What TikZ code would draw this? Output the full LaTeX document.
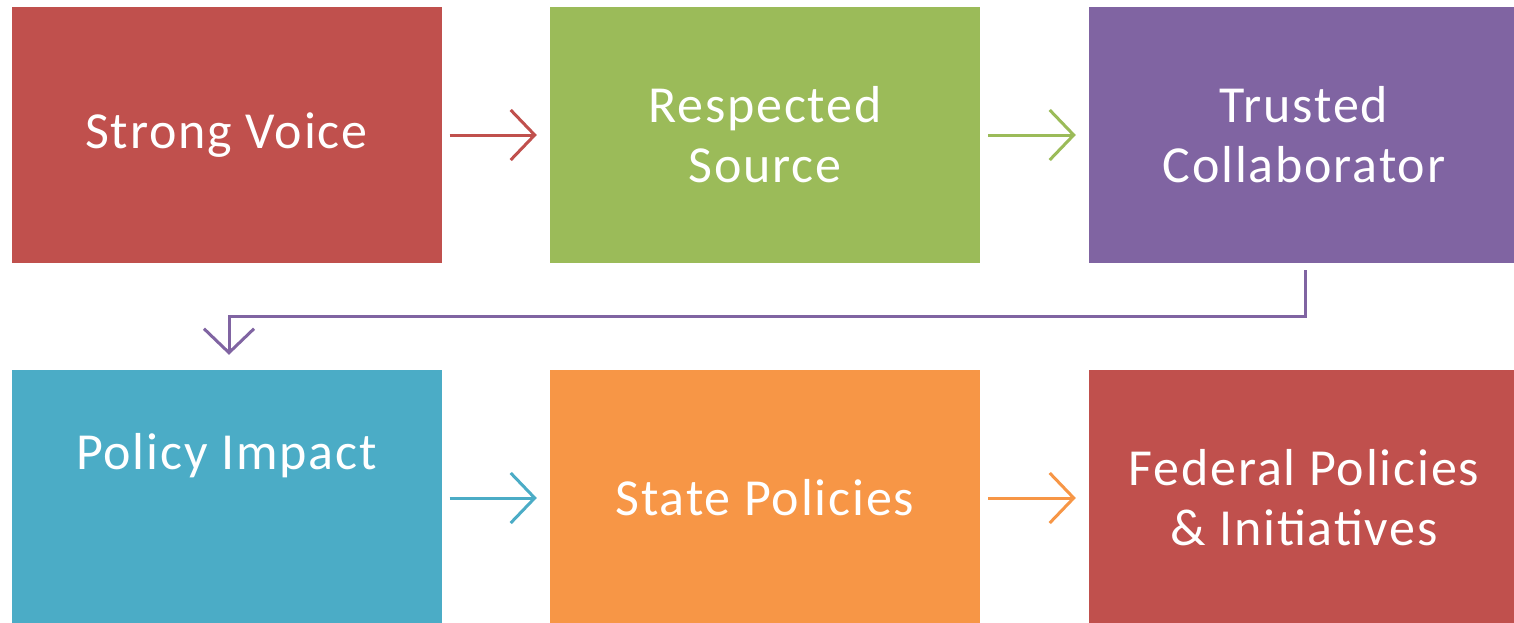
\documentclass[tikz,border=0pt]{standalone}
\usepackage{fontspec}
\setmainfont{Carlito}[LetterSpace=3.5]
\usetikzlibrary{arrows.meta}
\definecolor{cred}{HTML}{C0504D}
\definecolor{cgreen}{HTML}{9BBB59}
\definecolor{cpurple}{HTML}{8064A2}
\definecolor{cblue}{HTML}{4BACC6}
\definecolor{corange}{HTML}{F79646}
\tikzset{
  box/.style={rectangle, draw=none, minimum width=430pt, minimum height=256pt, inner sep=0pt,
    text=white, align=center, font=\fontsize{52}{60}\selectfont},
  txt/.style={text=white, align=center, inner sep=0pt, font=\fontsize{52}{60}\selectfont},
  arr/.style={line width=3pt, -{Straight Barb[length=24pt,width=50pt,line width=3pt]}},
}
\begin{document}
\begin{tikzpicture}[x=1pt,y=-1pt]
\useasboundingbox (0,0) rectangle (1514,623);
\clip (0,0) rectangle (1514,623);
\fill[white] (0,0) rectangle (1514,623);
\node[box, fill=cred] (b1) at (226.5,135) {Strong Voice};
\node[box, fill=cgreen] (b2) at (765,135) {Respected\\Source};
\node[box, fill=cpurple] (b3) at (1304,135) {Trusted\\Collaborator};
\node[box, fill=cblue] (b4) at (226.5,498) {};
\node[txt] (t4) at ([yshift=42pt]b4.center) {Policy Impact};
\node[box, fill=corange] (b5) at (765,498) {State Policies};
\node[box, fill=cred] (b6) at (1304,498) {Federal Policies\\\& Initiatives};
\draw[arr, cred] ([xshift=8pt]b1.east) -- ([xshift=-13pt]b2.west);
\draw[arr, cgreen] ([xshift=8pt]b2.east) -- ([xshift=-13pt]b3.west);
\draw[arr, cblue] ([xshift=8pt]b4.east) -- ([xshift=-13pt]b5.west);
\draw[arr, corange] ([xshift=8pt]b5.east) -- ([xshift=-13pt]b6.west);
\coordinate (c1) at ([xshift=1pt,yshift=-7pt]b3.south);
\coordinate (c2) at ([xshift=2.5pt,yshift=15pt]b4.north);
\draw[arr, cpurple] (c1) -- ++(0,46) -| (c2);
\end{tikzpicture}
\end{document}
